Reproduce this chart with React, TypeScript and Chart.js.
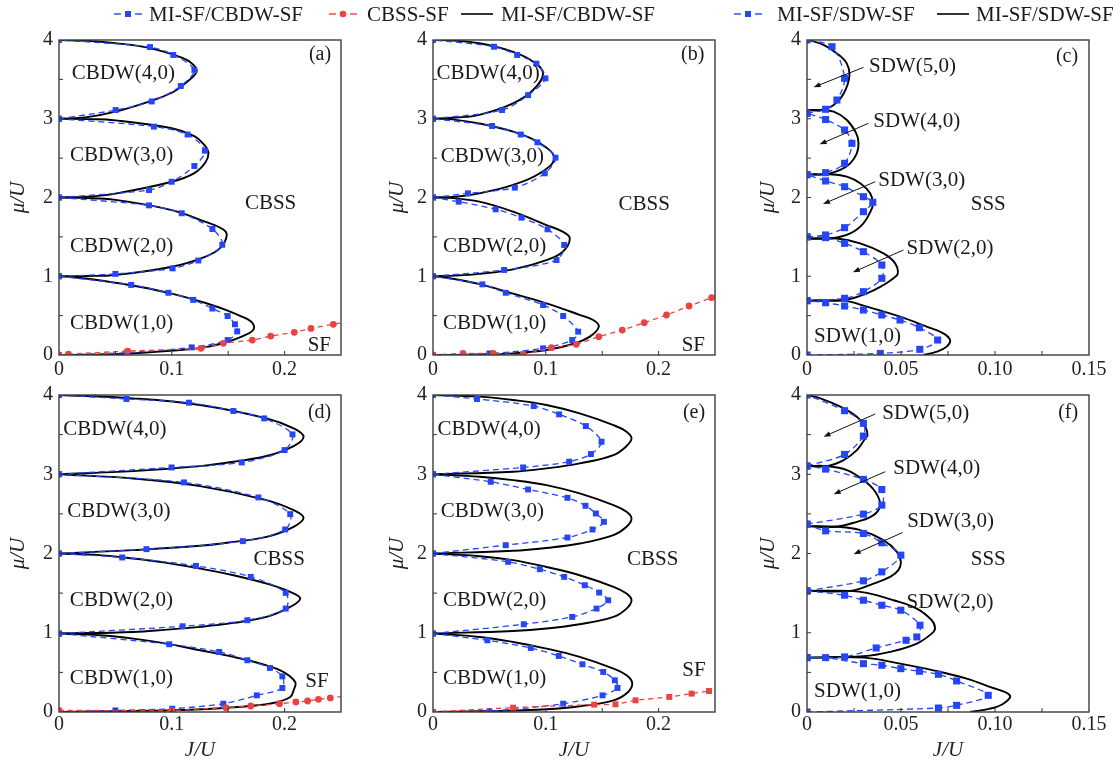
import React, { useEffect, useRef } from 'react';
import { Chart, registerables } from 'chart.js';

Chart.register(...registerables);

type Pt = [number, number];
type Label = [string, number, number];
type Arrow = [number, number, number, number];

const BLUE = 'rgb(36, 70, 245)';
const RED = 'rgb(236, 66, 66)';
const SERIF = '"Liberation Serif", "Times New Roman", serif';

// ---------------- Panel (a) ----------------
const A_BLACK: Pt[][] = [
  [[0, 0], [0.05, 0.01], [0.1, 0.055], [0.13, 0.1], [0.15, 0.17], [0.163, 0.24], [0.171, 0.3], [0.173, 0.36], [0.17, 0.43], [0.16, 0.5], [0.15, 0.56], [0.13, 0.66], [0.1, 0.78], [0.07, 0.87], [0.04, 0.94], [0.015, 0.985], [0, 1]],
  [[0, 1], [0.025, 1.004], [0.05, 1.016], [0.1, 1.12], [0.13, 1.25], [0.143, 1.36], [0.1487, 1.52], [0.145, 1.6], [0.13, 1.69], [0.1, 1.84], [0.05, 1.97], [0.02, 1.995], [0, 2]],
  [[0, 2], [0.025, 2.01], [0.05, 2.05], [0.1, 2.2], [0.12, 2.31], [0.13, 2.45], [0.1324, 2.58], [0.128, 2.68], [0.12, 2.78], [0.1, 2.88], [0.05, 2.98], [0.025, 2.995], [0, 3]],
  [[0, 3], [0.025, 3.02], [0.05, 3.09], [0.08, 3.22], [0.1, 3.33], [0.11, 3.43], [0.12, 3.55], [0.122, 3.62], [0.118, 3.7], [0.11, 3.77], [0.08, 3.9], [0.05, 3.96], [0.025, 3.99], [0, 4]],
];
const A_BLUE: Pt[][] = [
  [[0, 0], [0.06, 0.03], [0.1176, 0.097], [0.1495, 0.19], [0.158, 0.3], [0.156, 0.39], [0.1495, 0.495], [0.136, 0.59], [0.119, 0.7], [0.097, 0.79], [0.064, 0.89], [0, 1]],
  [[0, 1], [0.05, 1.03], [0.1007, 1.1], [0.1235, 1.2], [0.1448, 1.4], [0.136, 1.6], [0.1088, 1.8], [0.0798, 1.9], [0, 2]],
  [[0, 2], [0.0798, 2.095], [0.0999, 2.2], [0.12, 2.4], [0.1294, 2.594], [0.114, 2.8], [0.0842, 2.9], [0, 3]],
  [[0, 3], [0.0502, 3.11], [0.0822, 3.22], [0.108, 3.416], [0.12, 3.62], [0.1013, 3.81], [0.0807, 3.91], [0, 4]],
];
const A_RED: Pt[] = [[0, 0], [0.0083, 0.01], [0.0609, 0.05], [0.1259, 0.085], [0.1457, 0.148], [0.1714, 0.19], [0.1877, 0.24], [0.2086, 0.288], [0.2234, 0.338], [0.2432, 0.39], [0.26, 0.43]];
const A_LABELS: Label[] = [['CBDW(4,0)', 0.057, 3.58], ['CBDW(3,0)', 0.0555, 2.53], ['CBDW(2,0)', 0.0555, 1.375], ['CBDW(1,0)', 0.0555, 0.4], ['CBSS', 0.1876, 1.92], ['SF', 0.2308, 0.127], ['(a)', 0.2314, 3.81]];

// ---------------- Panel (b) ----------------
const B_BLACK: Pt[][] = [
  [[0, 0], [0.04, 0.005], [0.071, 0.02], [0.1006, 0.063], [0.124, 0.14], [0.139, 0.233], [0.147, 0.36], [0.142, 0.444], [0.13, 0.51], [0.1006, 0.656], [0.071, 0.78], [0.0414, 0.9], [0.015, 0.975], [0, 1]],
  [[0, 1], [0.02, 1.008], [0.041, 1.03], [0.071, 1.088], [0.1006, 1.206], [0.115, 1.312], [0.1213, 1.48], [0.115, 1.566], [0.1006, 1.65], [0.071, 1.82], [0.041, 1.947], [0.015, 1.995], [0, 2]],
  [[0, 2], [0.02, 2.01], [0.041, 2.053], [0.071, 2.16], [0.0947, 2.307], [0.1074, 2.5], [0.0947, 2.69], [0.071, 2.836], [0.041, 2.94], [0.015, 2.995], [0, 3]],
  [[0, 3], [0.02, 3.015], [0.041, 3.05], [0.071, 3.196], [0.0888, 3.365], [0.0976, 3.577], [0.0888, 3.725], [0.071, 3.85], [0.041, 3.958], [0.015, 3.995], [0, 4]],
];
const B_BLUE: Pt[][] = [
  [[0, 0], [0.05, 0.02], [0.0976, 0.085], [0.1234, 0.19], [0.1287, 0.296], [0.1154, 0.495], [0.0976, 0.635], [0.0645, 0.79], [0.0438, 0.897], [0, 1]],
  [[0, 1], [0.063, 1.08], [0.1095, 1.206], [0.1163, 1.397], [0.1015, 1.596], [0.0784, 1.744], [0.0556, 1.85], [0.0228, 1.947], [0, 2]],
  [[0, 2], [0.031, 2.053], [0.0725, 2.125], [0.0991, 2.307], [0.1086, 2.506], [0.0926, 2.7], [0.0778, 2.8], [0.0524, 2.908], [0, 3]],
  [[0, 3], [0.0612, 3.11], [0.0843, 3.3], [0.0997, 3.513], [0.0917, 3.7], [0.0746, 3.81], [0.0541, 3.915], [0, 4]],
];
const B_RED: Pt[] = [[0, 0], [0.0266, 0.02], [0.0533, 0.02], [0.08, 0.01], [0.105, 0.093], [0.127, 0.135], [0.147, 0.233], [0.1678, 0.317], [0.1873, 0.41], [0.207, 0.508], [0.227, 0.622], [0.247, 0.728]];
const B_LABELS: Label[] = [['CBDW(4,0)', 0.0488, 3.577], ['CBDW(3,0)', 0.0527, 2.52], ['CBDW(2,0)', 0.0547, 1.376], ['CBDW(1,0)', 0.0547, 0.402], ['CBSS', 0.1873, 1.917], ['SF', 0.2308, 0.127], ['(b)', 0.2302, 3.81]];

// ---------------- Panel (c) ----------------
const C_BLACK: Pt[][] = [
  [[0, 0.69], [0.0195, 0.69], [0.0318, 0.614], [0.0495, 0.487], [0.0637, 0.36], [0.0725, 0.275], [0.0761, 0.19], [0.0743, 0.106], [0.069, 0.042], [0.0619, 0]],
  [[0, 0.69], [0.0195, 0.698], [0.0318, 0.783], [0.0407, 0.889], [0.046, 0.974], [0.0483, 1.037], [0.0469, 1.164], [0.0407, 1.29], [0.0283, 1.418], [0.0159, 1.48], [0, 1.48]],
  [[0, 1.48], [0.0124, 1.48], [0.023, 1.545], [0.03, 1.672], [0.0345, 1.86], [0.035, 1.926], [0.0336, 2.053], [0.0283, 2.18], [0.0212, 2.265], [0.0124, 2.294], [0, 2.294]],
  [[0, 2.294], [0.01, 2.294], [0.0177, 2.35], [0.023, 2.434], [0.0265, 2.56], [0.0274, 2.688], [0.0262, 2.815], [0.0212, 2.984], [0.0142, 3.09], [0.007, 3.11], [0, 3.11]],
  [[0, 3.11], [0.007, 3.11], [0.0142, 3.175], [0.0195, 3.32], [0.0225, 3.534], [0.0212, 3.7], [0.0159, 3.83], [0.0088, 3.937], [0.001, 4]],
];
const C_BLUE: Pt[][] = [
  [[0, 0], [0.039, 0.02], [0.06, 0.072], [0.0695, 0.19], [0.0598, 0.347], [0.0495, 0.444], [0.0398, 0.508], [0.03, 0.571], [0.02, 0.622], [0.0099, 0.664], [0, 0.69]],
  [[0, 0.69], [0.02, 0.72], [0.03, 0.804], [0.0398, 0.974], [0.0398, 1.143], [0.03, 1.312], [0.02, 1.418], [0.0099, 1.49], [0, 1.5]],
  [[0, 1.5], [0.0099, 1.524], [0.02, 1.617], [0.03, 1.82], [0.035, 1.939], [0.03, 2.01], [0.02, 2.137], [0.0099, 2.21], [0, 2.29]],
  [[0, 2.29], [0.0099, 2.315], [0.02, 2.434], [0.0239, 2.688], [0.02, 2.857], [0.0099, 2.99], [0, 3.07]],
  [[0, 3.07], [0.0099, 3.12], [0.0159, 3.238], [0.02, 3.513], [0.0133, 3.915], [0, 4]],
];
const C_LABELS: Label[] = [['SDW(5,0)', 0.0561, 3.66], ['SDW(4,0)', 0.0584, 2.963], ['SDW(3,0)', 0.061, 2.222], ['SDW(2,0)', 0.0761, 1.354], ['SDW(1,0)', 0.0269, 0.241], ['SSS', 0.0964, 1.917], ['(c)', 0.1383, 3.79]];
const C_ARROWS: Arrow[] = [[0.0301, 3.653, 0.0035, 3.4], [0.0327, 2.942, 0.0067, 2.675], [0.0363, 2.2, 0.0085, 1.917], [0.0513, 1.333, 0.0244, 1.05]];

// ---------------- Panel (d) ----------------
const D_BLACK: Pt[][] = [
  [[0, 0], [0.0658, 0.013], [0.1, 0.022], [0.14, 0.045], [0.169, 0.075], [0.19, 0.114], [0.205, 0.19], [0.208, 0.274], [0.2094, 0.379], [0.199, 0.505], [0.184, 0.589], [0.1546, 0.695], [0.125, 0.779], [0.0954, 0.863], [0.0658, 0.926], [0.036, 0.968], [0, 0.99]],
  [[0, 0.99], [0.0658, 1.01], [0.0954, 1.04], [0.125, 1.074], [0.1546, 1.124], [0.184, 1.2], [0.205, 1.326], [0.2139, 1.432], [0.205, 1.516], [0.184, 1.62], [0.1546, 1.726], [0.125, 1.81], [0.0954, 1.882], [0.0658, 1.937], [0.036, 1.98], [0, 2]],
  [[0, 2], [0.0658, 2.042], [0.125, 2.097], [0.1546, 2.147], [0.184, 2.21], [0.208, 2.337], [0.2168, 2.45], [0.208, 2.547], [0.184, 2.674], [0.125, 2.85], [0.0658, 2.947], [0, 3]],
  [[0, 3], [0.0658, 3.04], [0.125, 3.103], [0.1546, 3.158], [0.184, 3.23], [0.208, 3.356], [0.2168, 3.474], [0.208, 3.579], [0.184, 3.705], [0.125, 3.874], [0.0658, 3.958], [0, 4]],
];
const D_BLUE: Pt[][] = [
  [[0, 0], [0.05, 0.02], [0.1004, 0.042], [0.1457, 0.105], [0.1754, 0.21], [0.198, 0.303], [0.198, 0.45], [0.187, 0.556], [0.167, 0.653], [0.142, 0.758], [0.0977, 0.855], [0, 0.99]],
  [[0, 0.99], [0.1096, 1.082], [0.167, 1.158], [0.201, 1.305], [0.201, 1.503], [0.17, 1.705], [0.1214, 1.844], [0.056, 1.95], [0, 2]],
  [[0, 2], [0.0776, 2.055], [0.163, 2.156], [0.2005, 2.303], [0.205, 2.497], [0.1768, 2.707], [0.1108, 2.897], [0, 3]],
  [[0, 3], [0.0998, 3.086], [0.162, 3.149], [0.2, 3.305], [0.207, 3.503], [0.1819, 3.705], [0.1546, 3.798], [0.1152, 3.903], [0.0598, 3.95], [0, 4]],
];
const D_RED: Pt[] = [[0, 0.02], [0.1, 0.02], [0.148, 0.055], [0.17, 0.076], [0.1955, 0.105], [0.21, 0.126], [0.2204, 0.139], [0.23, 0.16], [0.2405, 0.177], [0.26, 0.21]];
const D_LABELS: Label[] = [['CBDW(4,0)', 0.0495, 3.566], ['CBDW(3,0)', 0.053, 2.526], ['CBDW(2,0)', 0.0554, 1.41], ['CBDW(1,0)', 0.0554, 0.421], ['CBSS', 0.1952, 1.928], ['SF', 0.2287, 0.379], ['(d)', 0.231, 3.777]];

// ---------------- Panel (e) ----------------
const E_BLACK: Pt[][] = [
  [[0, 0], [0.056, 0.013], [0.1006, 0.034], [0.13, 0.072], [0.16, 0.147], [0.173, 0.253], [0.1766, 0.366], [0.1716, 0.463], [0.16, 0.547], [0.13, 0.695], [0.1006, 0.8], [0.071, 0.884], [0.0414, 0.947], [0, 0.99]],
  [[0, 0.99], [0.071, 1.023], [0.1006, 1.053], [0.13, 1.107], [0.16, 1.2], [0.1716, 1.305], [0.176, 1.41], [0.1716, 1.495], [0.16, 1.579], [0.13, 1.726], [0.1006, 1.83], [0.071, 1.916], [0.0414, 1.966], [0, 2]],
  [[0, 2], [0.071, 2.034], [0.1006, 2.07], [0.13, 2.126], [0.16, 2.232], [0.1716, 2.337], [0.176, 2.442], [0.1716, 2.526], [0.16, 2.61], [0.13, 2.758], [0.1006, 2.863], [0.071, 2.926], [0.0414, 2.968], [0, 3]],
  [[0, 3], [0.071, 3.032], [0.1006, 3.074], [0.13, 3.137], [0.16, 3.242], [0.1716, 3.356], [0.176, 3.453], [0.1716, 3.537], [0.16, 3.62], [0.13, 3.768], [0.1006, 3.874], [0.071, 3.937], [0.0414, 3.979], [0, 4]],
];
const E_BLUE: Pt[][] = [
  [[0, 0], [0.05, 0.01], [0.1154, 0.105], [0.1503, 0.21], [0.1636, 0.303], [0.1612, 0.4], [0.1509, 0.505], [0.1325, 0.602], [0.1115, 0.707], [0.0867, 0.808], [0.0482, 0.905], [0, 0.99]],
  [[0, 0.99], [0.0805, 1.107], [0.1234, 1.2], [0.145, 1.305], [0.1553, 1.41], [0.1473, 1.507], [0.1346, 1.6], [0.1163, 1.705], [0.0947, 1.802], [0.0666, 1.895], [0, 2]],
  [[0, 2], [0.0645, 2.105], [0.1192, 2.202], [0.1414, 2.303], [0.1515, 2.4], [0.1444, 2.505], [0.1352, 2.602], [0.1192, 2.703], [0.0843, 2.808], [0.0512, 2.905], [0, 3]],
  [[0, 3], [0.0799, 3.086], [0.1207, 3.158], [0.14, 3.255], [0.1494, 3.41], [0.1355, 3.608], [0.1118, 3.756], [0.0893, 3.861], [0.039, 3.95], [0, 4]],
];
const E_RED: Pt[] = [[0, 0], [0.071, 0.055], [0.1429, 0.093], [0.1618, 0.097], [0.1796, 0.147], [0.2095, 0.19], [0.2293, 0.232], [0.2447, 0.265]];
const E_LABELS: Label[] = [['CBDW(4,0)', 0.0497, 3.566], ['CBDW(3,0)', 0.0527, 2.526], ['CBDW(2,0)', 0.0547, 1.41], ['CBDW(1,0)', 0.0547, 0.421], ['CBSS', 0.1947, 1.928], ['SF', 0.2314, 0.526], ['(e)', 0.2314, 3.777]];

// ---------------- Panel (f) ----------------
const F_BLACK: Pt[][] = [
  [[0, 0.686], [0.03, 0.686], [0.0495, 0.61], [0.0672, 0.526], [0.0849, 0.421], [0.0973, 0.316], [0.1079, 0.21], [0.1044, 0.105], [0.0973, 0.042], [0.0867, 0]],
  [[0, 0.686], [0.03, 0.703], [0.0442, 0.758], [0.0584, 0.863], [0.0663, 0.989], [0.0681, 1.053], [0.0663, 1.158], [0.0584, 1.305], [0.046, 1.41], [0.0318, 1.503], [0.023, 1.528], [0, 1.528]],
  [[0, 1.528], [0.023, 1.528], [0.0354, 1.621], [0.0442, 1.705], [0.0486, 1.79], [0.0499, 1.895], [0.0478, 2.02], [0.0407, 2.168], [0.0283, 2.295], [0.0159, 2.337], [0, 2.345]],
  [[0, 2.345], [0.015, 2.337], [0.0265, 2.4], [0.0354, 2.484], [0.0389, 2.61], [0.0363, 2.779], [0.03, 2.926], [0.0212, 3.053], [0.0106, 3.103], [0, 3.103]],
  [[0, 3.103], [0.0106, 3.103], [0.0195, 3.179], [0.0265, 3.305], [0.031, 3.453], [0.0322, 3.495], [0.031, 3.6], [0.0265, 3.726], [0.0177, 3.853], [0.0071, 3.958], [0, 4]],
];
const F_BLUE: Pt[][] = [
  [[0, 0], [0.0699, 0.05], [0.0796, 0.084], [0.0964, 0.21], [0.0796, 0.392], [0.0699, 0.476], [0.0598, 0.514], [0.0499, 0.547], [0.0398, 0.59], [0.03, 0.61], [0.0099, 0.686], [0, 0.686]],
  [[0, 0.686], [0.02, 0.695], [0.0368, 0.808], [0.0527, 0.905], [0.0584, 0.947], [0.0601, 1.095], [0.0499, 1.284], [0.0398, 1.347], [0.03, 1.41], [0.02, 1.474], [0, 1.528]],
  [[0, 1.528], [0.03, 1.655], [0.0398, 1.768], [0.0499, 1.979], [0.0398, 2.135], [0.03, 2.253], [0.0099, 2.286], [0, 2.37]],
  [[0, 2.37], [0.03, 2.497], [0.0398, 2.61], [0.0398, 2.808], [0.03, 2.935], [0.0099, 3.065], [0, 3.103]],
  [[0, 3.103], [0.02, 3.25], [0.03, 3.482], [0.03, 3.642], [0.02, 3.802], [0, 4]],
];
const F_LABELS: Label[] = [['SDW(5,0)', 0.0632, 3.768], ['SDW(4,0)', 0.069, 3.074], ['SDW(3,0)', 0.0764, 2.4], ['SDW(2,0)', 0.0761, 1.377], ['SDW(1,0)', 0.0269, 0.253], ['SSS', 0.0964, 1.928], ['(f)', 0.1389, 3.777]];
const F_ARROWS: Arrow[] = [[0.0363, 3.76, 0.0088, 3.474], [0.0416, 3.032, 0.0142, 2.749], [0.0509, 2.265, 0.0248, 1.99]];

const Y_TICKS_MAX = 4;
const LEGEND_TEXT = ['MI-SF/CBDW-SF', 'CBSS-SF', 'MI-SF/CBDW-SF', 'MI-SF/SDW-SF', 'MI-SF/SDW-SF'];

interface Panel {
  name: string;
  black: Pt[][];
  blue: Pt[][];
  red: Pt[] | null;
  redSquare: boolean;
  xMax: number;
  xStep: number;
  labels: Label[];
  arrows: Arrow[];
  left: number;
  top: number;
  width: number;
  height: number;
  areaLeft: number;
  areaTop: number;
  areaRight: number;
  areaBottom: number;
  bottomRow: boolean;
  yTitlePad: number;
  bigMarkers: boolean;
}

const COLS = [
  { left: 0, width: 372, areaLeft: 59, areaRight: 341, yTitlePad: 8 },
  { left: 372, width: 372, areaLeft: 433, areaRight: 715, yTitlePad: 15 },
  { left: 744, width: 369, areaLeft: 807, areaRight: 1089, yTitlePad: 14 },
];
const ROWS = [
  { top: 18, height: 372, areaTop: 40, areaBottom: 355, bottomRow: false },
  { top: 373, height: 389, areaTop: 395, areaBottom: 712, bottomRow: true },
];

const PANELS: Panel[] = [
  { name: 'a', black: A_BLACK, blue: A_BLUE, red: A_RED, redSquare: false, xMax: 0.25, xStep: 0.1, labels: A_LABELS, arrows: [], ...COLS[0], ...ROWS[0], bigMarkers: false },
  { name: 'b', black: B_BLACK, blue: B_BLUE, red: B_RED, redSquare: false, xMax: 0.25, xStep: 0.1, labels: B_LABELS, arrows: [], ...COLS[1], ...ROWS[0], bigMarkers: false },
  { name: 'c', black: C_BLACK, blue: C_BLUE, red: null, redSquare: false, xMax: 0.15, xStep: 0.05, labels: C_LABELS, arrows: C_ARROWS, ...COLS[2], ...ROWS[0], bigMarkers: true },
  { name: 'd', black: D_BLACK, blue: D_BLUE, red: D_RED, redSquare: false, xMax: 0.25, xStep: 0.1, labels: D_LABELS, arrows: [], ...COLS[0], ...ROWS[1], bigMarkers: false },
  { name: 'e', black: E_BLACK, blue: E_BLUE, red: E_RED, redSquare: true, xMax: 0.25, xStep: 0.1, labels: E_LABELS, arrows: [], ...COLS[1], ...ROWS[1], bigMarkers: false },
  { name: 'f', black: F_BLACK, blue: F_BLUE, red: null, redSquare: false, xMax: 0.15, xStep: 0.05, labels: F_LABELS, arrows: F_ARROWS, ...COLS[2], ...ROWS[1], bigMarkers: true },
];

const toXY = (pts: Pt[]) => pts.map(([x, y]) => ({ x, y }));

function makeChart(canvas: HTMLCanvasElement, p: Panel): Chart {
  const datasets: any[] = [];
  if (p.red) {
    datasets.push({
      data: toXY(p.red), showLine: true, borderColor: RED, borderWidth: 1.3, borderDash: [5, 4],
      pointStyle: p.redSquare ? 'rect' : 'circle', pointRadius: p.redSquare ? 4.2 : 3.4,
      pointBackgroundColor: RED, pointBorderWidth: 0, tension: 0.2, order: 1,
    });
  }
  p.blue.forEach((lobe) => datasets.push({
    data: toXY(lobe), showLine: true, borderColor: BLUE, borderWidth: 1.3, borderDash: [6, 4],
    pointStyle: 'rect', pointRadius: p.bigMarkers ? 5 : 4.2, pointBackgroundColor: BLUE, pointBorderWidth: 0,
    tension: 0.3, order: 2,
  }));
  p.black.forEach((lobe) => datasets.push({
    data: toXY(lobe), showLine: true, borderColor: '#000', borderWidth: 1.9, pointRadius: 0,
    tension: 0.4, order: 3,
  }));

  const xAxisH = p.top + p.height - p.areaBottom;
  const yAxisW = p.areaLeft - p.left;
  const frame = {
    id: 'frame' + p.name,
    afterDraw(chart: any) {
      const { ctx, chartArea: a } = chart;
      const xs = chart.scales.x;
      const ys = chart.scales.y;
      ctx.save();
      ctx.strokeStyle = '#3c3c3c';
      ctx.lineWidth = 1.4;
      ctx.strokeRect(a.left, a.top, a.right - a.left, a.bottom - a.top);
      ctx.lineWidth = 1;
      ctx.strokeStyle = '#333';
      const xm = p.xStep / 2;
      for (let i = 1; i * xm < p.xMax - 1e-9; i++) {
        const px = xs.getPixelForValue(i * xm);
        ctx.beginPath();
        ctx.moveTo(px, a.bottom);
        ctx.lineTo(px, a.bottom - 4);
        ctx.stroke();
      }
      for (let i = 1; i * 0.5 < Y_TICKS_MAX - 1e-9; i++) {
        const py = ys.getPixelForValue(i * 0.5);
        ctx.beginPath();
        ctx.moveTo(a.left, py);
        ctx.lineTo(a.left + 4, py);
        ctx.stroke();
      }
      ctx.fillStyle = '#1a1a1a';
      ctx.textAlign = 'center';
      ctx.textBaseline = 'middle';
      for (const [t, j, m] of p.labels) {
        ctx.font = `${t.startsWith('(') ? 20 : 21}px ${SERIF}`;
        ctx.fillText(t, xs.getPixelForValue(j), ys.getPixelForValue(m));
      }
      ctx.strokeStyle = '#111';
      ctx.fillStyle = '#111';
      for (const [j1, m1, j2, m2] of p.arrows) {
        const x1 = xs.getPixelForValue(j1), y1 = ys.getPixelForValue(m1);
        const x2 = xs.getPixelForValue(j2), y2 = ys.getPixelForValue(m2);
        const ang = Math.atan2(y2 - y1, x2 - x1);
        ctx.lineWidth = 1;
        ctx.beginPath();
        ctx.moveTo(x1, y1);
        ctx.lineTo(x2 - 5 * Math.cos(ang), y2 - 5 * Math.sin(ang));
        ctx.stroke();
        ctx.beginPath();
        ctx.moveTo(x2, y2);
        ctx.lineTo(x2 - 7 * Math.cos(ang) + 2.6 * Math.sin(ang), y2 - 7 * Math.sin(ang) - 2.6 * Math.cos(ang));
        ctx.lineTo(x2 - 7 * Math.cos(ang) - 2.6 * Math.sin(ang), y2 - 7 * Math.sin(ang) + 2.6 * Math.cos(ang));
        ctx.closePath();
        ctx.fill();
      }
      ctx.restore();
    },
  };

  const tickFont = { family: SERIF, size: 20 };
  return new Chart(canvas, {
    type: 'scatter',
    data: { datasets },
    options: {
      animation: false,
      responsive: false,
      maintainAspectRatio: false,
      devicePixelRatio: 1,
      events: [],
      layout: { padding: { left: 0, top: p.areaTop - p.top, right: p.left + p.width - p.areaRight, bottom: 0 } },
      plugins: { legend: { display: false }, tooltip: { enabled: false } },
      scales: {
        x: {
          type: 'linear', min: 0, max: p.xMax,
          grid: { display: false, drawTicks: false },
          border: { display: false },
          ticks: {
            stepSize: p.xStep, includeBounds: false, autoSkip: false, maxRotation: 0,
            font: tickFont, color: '#222', padding: p.bottomRow ? 1 : 3,
            callback: (v: any) => {
              const n = Number(v);
              if (Math.abs(n) < 1e-9) return '0';
              return p.xStep < 0.09 ? n.toFixed(2) : n.toFixed(1);
            },
          },
          title: {
            display: p.bottomRow, text: 'J/U', color: '#222',
            font: { family: SERIF, size: 21, style: 'italic', lineHeight: 1 },
            padding: { top: 0, bottom: 1.5 },
          },
          afterFit: (s: any) => { s.height = xAxisH; },
        },
        y: {
          type: 'linear', min: 0, max: 4,
          grid: { display: false, drawTicks: false },
          border: { display: false },
          ticks: {
            stepSize: 1, autoSkip: false, font: tickFont, color: '#222', padding: 6,
            callback: (v: any) => String(Math.round(Number(v))),
          },
          title: {
            display: true, text: 'μ/U', color: '#222',
            font: { family: SERIF, size: 21, style: 'italic', lineHeight: 1 },
            padding: { top: p.yTitlePad, bottom: 0 },
          },
          afterFit: (s: any) => { s.width = yAxisW; },
        },
      },
    } as any,
    plugins: [frame as any],
  });
}

function LegendSample({ kind, left }: { kind: 'blue' | 'red' | 'black'; left: number }) {
  const c = kind === 'blue' ? BLUE : kind === 'red' ? RED : '#000';
  return (
    <svg width={32} height={14} style={{ position: 'absolute', left, top: 7, zIndex: 2 }}>
      {kind === 'black' ? (
        <line x1={0} y1={7} x2={32} y2={7} stroke={c} strokeWidth={1.6} />
      ) : (
        <>
          <line x1={1} y1={7} x2={8} y2={7} stroke={c} strokeWidth={1.4} />
          <line x1={22} y1={7} x2={29} y2={7} stroke={c} strokeWidth={1.4} />
          {kind === 'blue' ? <rect x={12} y={4} width={6} height={6} fill={c} /> : <circle cx={15} cy={7} r={3.3} fill={c} />}
        </>
      )}
    </svg>
  );
}

const LEGEND_ITEMS: { kind: 'blue' | 'red' | 'black'; sx: number; tx: number }[] = [
  { kind: 'blue', sx: 113, tx: 149 },
  { kind: 'red', sx: 328, tx: 367 },
  { kind: 'black', sx: 461, tx: 501 },
  { kind: 'blue', sx: 733, tx: 777 },
  { kind: 'black', sx: 937, tx: 976 },
];

export default function App() {
  const refs = useRef<(HTMLCanvasElement | null)[]>([]);
  useEffect(() => {
    const charts = PANELS.map((p, i) => makeChart(refs.current[i] as HTMLCanvasElement, p));
    return () => charts.forEach((c) => c.destroy());
  }, []);
  return (
    <div style={{ position: 'absolute', left: 0, top: 0, width: 1113, height: 762, background: '#fff', overflow: 'hidden' }}>
      {PANELS.map((p, i) => (
        <canvas
          key={p.name}
          ref={(el) => { refs.current[i] = el; }}
          width={p.width}
          height={p.height}
          style={{ position: 'absolute', left: p.left, top: p.top, width: p.width, height: p.height }}
        />
      ))}
      {LEGEND_ITEMS.map((it, i) => (
        <React.Fragment key={i}>
          <LegendSample kind={it.kind} left={it.sx} />
          <span style={{ position: 'absolute', left: it.tx, top: 3, zIndex: 2, fontFamily: SERIF, fontSize: 21, lineHeight: '22px', color: '#1a1a1a', whiteSpace: 'nowrap' }}>
            {LEGEND_TEXT[i]}
          </span>
        </React.Fragment>
      ))}
    </div>
  );
}
